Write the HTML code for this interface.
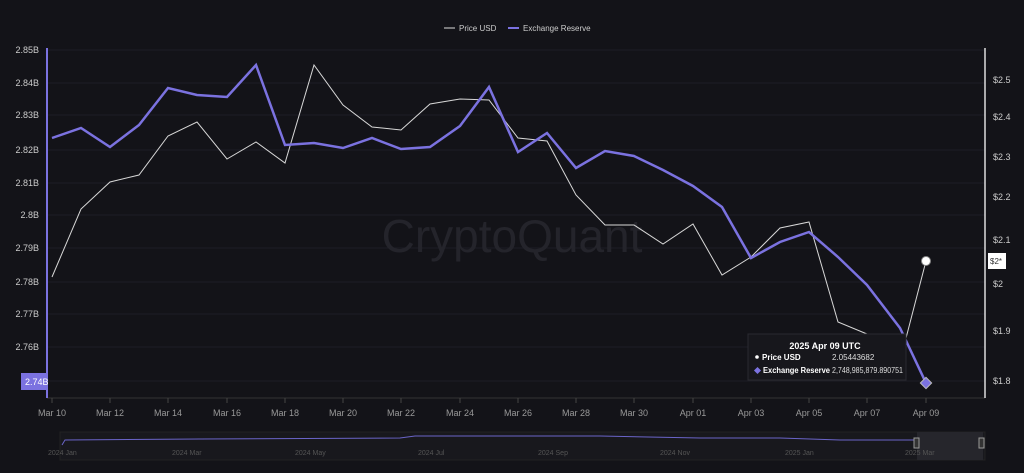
<!DOCTYPE html>
<html><head><style>
body{margin:0;background:#131318;}
svg{display:block;font-family:"Liberation Sans",sans-serif;}
</style></head><body>
<svg width="1024" height="473" viewBox="0 0 1024 473">
<rect width="1024" height="473" fill="#131318"/>
<g stroke="#1e1e26" stroke-width="1">
<line x1="47" x2="985" y1="50" y2="50"/><line x1="47" x2="985" y1="83" y2="83"/><line x1="47" x2="985" y1="115" y2="115"/><line x1="47" x2="985" y1="150" y2="150"/><line x1="47" x2="985" y1="183" y2="183"/><line x1="47" x2="985" y1="215" y2="215"/><line x1="47" x2="985" y1="248" y2="248"/><line x1="47" x2="985" y1="282" y2="282"/><line x1="47" x2="985" y1="314" y2="314"/><line x1="47" x2="985" y1="347" y2="347"/><line x1="47" x2="985" y1="381" y2="381"/>
</g>
<line x1="47" y1="398" x2="985" y2="398" stroke="#333"/>
<text x="512" y="252" font-size="46" fill="#24242b" text-anchor="middle">CryptoQuant</text>
<line x1="47" y1="48" x2="47" y2="398" stroke="#7b72e0" stroke-width="2"/>
<line x1="985" y1="48" x2="985" y2="398" stroke="#ddd" stroke-width="1.5"/>
<g font-size="9" fill="#ccc" text-anchor="end">
<text x="39" y="53">2.85B</text><text x="39" y="86">2.84B</text><text x="39" y="118">2.83B</text><text x="39" y="153">2.82B</text><text x="39" y="186">2.81B</text><text x="39" y="218">2.8B</text><text x="39" y="251">2.79B</text><text x="39" y="285">2.78B</text><text x="39" y="317">2.77B</text><text x="39" y="350">2.76B</text>
</g>
<rect x="21" y="373" width="26" height="17" fill="#7b72e0"/>
<text x="25" y="385" font-size="9" fill="#fff">2.74B</text>
<g font-size="9" fill="#ccc">
<text x="993" y="83">$2.5</text><text x="993" y="120">$2.4</text><text x="993" y="160">$2.3</text><text x="993" y="200">$2.2</text><text x="993" y="243">$2.1</text><text x="993" y="287">$2</text><text x="993" y="334">$1.9</text><text x="993" y="384">$1.8</text>
</g>
<rect x="988" y="253" width="18" height="16" fill="#fff"/>
<text x="990" y="264" font-size="8" fill="#333">$2*</text>
<g font-size="9" fill="#999" text-anchor="middle">
<text x="52" y="416">Mar 10</text><text x="110" y="416">Mar 12</text><text x="168" y="416">Mar 14</text><text x="227" y="416">Mar 16</text><text x="285" y="416">Mar 18</text><text x="343" y="416">Mar 20</text><text x="401" y="416">Mar 22</text><text x="460" y="416">Mar 24</text><text x="518" y="416">Mar 26</text><text x="576" y="416">Mar 28</text><text x="634" y="416">Mar 30</text><text x="693" y="416">Apr 01</text><text x="751" y="416">Apr 03</text><text x="809" y="416">Apr 05</text><text x="867" y="416">Apr 07</text><text x="926" y="416">Apr 09</text>
</g>
<g stroke="#444"><line x1="52" x2="52" y1="398" y2="403"/><line x1="110" x2="110" y1="398" y2="403"/><line x1="168" x2="168" y1="398" y2="403"/><line x1="227" x2="227" y1="398" y2="403"/><line x1="285" x2="285" y1="398" y2="403"/><line x1="343" x2="343" y1="398" y2="403"/><line x1="401" x2="401" y1="398" y2="403"/><line x1="460" x2="460" y1="398" y2="403"/><line x1="518" x2="518" y1="398" y2="403"/><line x1="576" x2="576" y1="398" y2="403"/><line x1="634" x2="634" y1="398" y2="403"/><line x1="693" x2="693" y1="398" y2="403"/><line x1="751" x2="751" y1="398" y2="403"/><line x1="809" x2="809" y1="398" y2="403"/><line x1="867" x2="867" y1="398" y2="403"/><line x1="926" x2="926" y1="398" y2="403"/></g>
<polyline fill="none" stroke="#d8d8d8" stroke-width="1" points="52,277 81,209 110,182 139,175 168,136 197,122 227,159 256,142 285,163 314,65 343,105 372,127 401,130 430,104 460,99 489,100 518,138 547,141 576,195 605,225 634,225 663,244 693,224 722,275 751,257 780,228 809,222 838,322 867,334 905,342 926,261"/>
<polyline fill="none" stroke="#7b72e0" stroke-width="2.5" points="52,138 81,128 110,147 139,125 168,88 197,95 227,97 256,65 285,145 314,143 343,148 372,138 401,149 430,147 460,126 489,87 518,152 547,133 576,168 605,151 634,156 663,170 693,186 722,207 751,258 780,242 809,232 838,257 867,285 900,328 926,383"/>
<circle cx="926" cy="261" r="4.5" fill="#fff" stroke="#888" stroke-width="1"/>
<rect x="922" y="379" width="8" height="8" fill="#7b72e0" stroke="#bbb" transform="rotate(45 926 383)"/>
<rect x="748" y="334" width="158" height="46" fill="#17171c" stroke="#2a2a30"/>
<text x="825" y="349" font-size="9" font-weight="bold" fill="#fff" text-anchor="middle">2025 Apr 09 UTC</text>
<circle cx="757" cy="357" r="1.8" fill="#fff"/>
<text x="762" y="360" font-size="8" font-weight="bold" fill="#fff">Price USD</text>
<text x="832" y="360" font-size="8" fill="#ddd">2.05443682</text>
<rect x="755" y="368" width="5" height="5" fill="#7b72e0" transform="rotate(45 757.5 370.5)"/>
<text x="763" y="373" font-size="8" font-weight="bold" fill="#fff" textLength="67" lengthAdjust="spacingAndGlyphs">Exchange Reserve</text>
<text x="832" y="373" font-size="8" fill="#ddd" textLength="71" lengthAdjust="spacingAndGlyphs">2,748,985,879.890751</text>
<line x1="444" y1="28" x2="455" y2="28" stroke="#ddd"/>
<text x="459" y="31" font-size="8" fill="#ccc">Price USD</text>
<line x1="508" y1="28" x2="519" y2="28" stroke="#7b72e0" stroke-width="2"/>
<text x="523" y="31" font-size="8" fill="#ccc">Exchange Reserve</text>
<rect x="60" y="432" width="925" height="28" fill="#18181d" stroke="#222"/>
<rect x="917" y="432" width="66" height="28" fill="#26262c"/>
<polyline fill="none" stroke="#6a64c8" stroke-width="1" points="62,445 65,440 200,439 400,438 415,436 600,436 700,438 780,438 840,440 915,440"/>
<g font-size="7" fill="#555"><text x="48" y="455">2024 Jan</text><text x="172" y="455">2024 Mar</text><text x="295" y="455">2024 May</text><text x="418" y="455">2024 Jul</text><text x="538" y="455">2024 Sep</text><text x="660" y="455">2024 Nov</text><text x="785" y="455">2025 Jan</text><text x="905" y="455">2025 Mar</text></g>
<rect x="914" y="438" width="5" height="10" fill="#333" stroke="#999"/>
<rect x="979" y="438" width="5" height="10" fill="#333" stroke="#999"/>
</svg>
</body></html>
